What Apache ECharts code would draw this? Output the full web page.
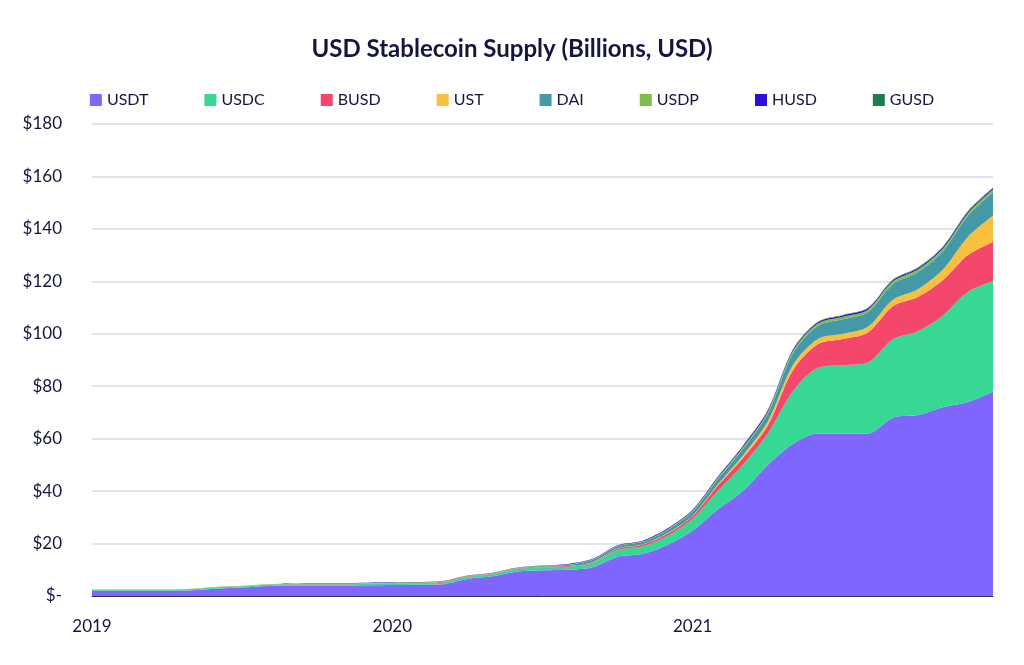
<!DOCTYPE html>
<html lang="en">
<head>
<meta charset="UTF-8">
<title>USD Stablecoin Supply</title>
<script src="https://cdn.jsdelivr.net/npm/echarts@6/dist/echarts.min.js"></script>
<style>
  *{margin:0;padding:0}
  html,body{width:100%;height:100%;background:#fff}
  #main{width:1024px;height:665px}
</style>
</head>
<body>
<div id="main"></div>
<script>
var months = [];
for (var y = 2019; y <= 2021; y++) {
    for (var m = 1; m <= 12; m++) months.push(y + '-' + (m < 10 ? '0' + m : m));
}
months.push('2022-01');

var usdt = [2,2,2,2,2.2,2.8,3.2,3.8,4,4,4,4.1,
            4.2,4.3,4.5,6.5,7.5,9.3,9.8,10,11,15,16,19.5,
            25,33,40,50,58,62,62,62,68,69,72,74,78];
var usdc = [0.3,0.3,0.3,0.3,0.4,0.4,0.4,0.4,0.5,0.5,0.5,0.5,
            0.5,0.5,0.6,0.7,0.8,1,1.1,1.2,1.5,2.5,3,3.5,
            4.5,7,10,12,20,25,26,27,30,32,35,42,42];
var busd = [0,0,0,0,0,0,0,0,0.1,0.1,0.1,0.1,
            0.1,0.1,0.2,0.2,0.2,0.2,0.2,0.2,0.3,0.5,0.6,0.8,
            1,2,2.5,3,8,9,10,11.5,12.5,13,13.5,14,15];
var ust = [0,0,0,0,0,0,0,0,0,0,0,0,
           0,0,0,0,0,0,0,0,0.1,0.1,0.1,0.2,
           0.2,0.5,1,1.5,2,2,2,2.2,2.5,3,4,7,10];
var dai = [0.1,0.1,0.1,0.1,0.1,0.1,0.1,0.1,0.1,0.1,0.1,0.1,
           0.1,0.1,0.1,0.1,0.1,0.1,0.2,0.4,0.9,0.9,1,1.2,
           1.5,2,2.5,3,4.5,5,5.5,5.5,6,6.5,7,8,9];
var usdp = [0.1,0.1,0.1,0.1,0.1,0.2,0.2,0.2,0.2,0.2,0.2,0.2,
            0.2,0.2,0.2,0.2,0.2,0.2,0.2,0.2,0.2,0.2,0.2,0.3,
            0.4,0.5,0.6,0.7,0.8,0.9,1,1,1,1,1,1,1];
var husd = [0,0,0,0,0,0,0,0,0,0.1,0.1,0.1,
            0.1,0.1,0.1,0.1,0.1,0.1,0.1,0.2,0.2,0.2,0.2,0.3,
            0.3,0.4,0.5,0.5,0.5,0.5,0.5,0.5,0.5,0.5,0.5,0.5,0.5];
var gusd = [0,0,0,0,0,0,0,0,0,0,0,0,
            0,0,0,0,0,0,0,0,0,0,0,0,
            0.1,0.1,0.1,0.2,0.2,0.2,0.2,0.2,0.2,0.3,0.3,0.3,0.3];

var names = ['USDT','USDC','BUSD','UST','DAI','USDP','HUSD','GUSD'];
var values = [usdt, usdc, busd, ust, dai, usdp, husd, gusd];
var colors = ['#7f66ff','#36d894','#f5476b','#fbbf40','#4399a6','#7ebd4c','#2a0fd6','#1f7b52'];

var chart = echarts.init(document.getElementById('main'));
var series = names.map(function (n, i) {
    return {
        name: n, type: 'line', stack: 'total', smooth: 0.3,
        symbol: 'none', lineStyle: {width: 0},
        areaStyle: {color: colors[i], opacity: 1},
        itemStyle: {color: colors[i]},
        data: values[i]
    };
});

chart.setOption({
    title: {
        text: 'USD Stablecoin Supply (Billions, USD)', left: 'center', top: 32,
        textStyle: {fontFamily: 'Lato', fontWeight: 'bold', fontSize: 24, color: '#14163f'}
    },
    legend: {
        top: 87, left: 'center', itemGap: 56, itemWidth: 12, itemHeight: 12,
        icon: 'rect',
        textStyle: {fontFamily: 'Lato', fontSize: 16, color: '#14163f'},
        data: names
    },
    grid: {left: 92, right: 31, top: 124, bottom: 69},
    xAxis: {
        type: 'category', boundaryGap: false, data: months,
        axisLine: {lineStyle: {color: '#333'}},
        axisTick: {show: false},
        axisLabel: {
            interval: function (i) { return i % 12 === 0 && i < 36; },
            formatter: function (v) { return v.slice(0, 4); },
            fontFamily: 'Lato', fontSize: 17, color: '#14163f', margin: 22
        }
    },
    yAxis: {
        type: 'value', min: 0, max: 180, interval: 20,
        axisLine: {show: false}, axisTick: {show: false},
        splitLine: {lineStyle: {color: '#d8d8e4', width: 1.5}},
        axisLabel: {
            formatter: function (v) { return v === 0 ? '$-' : '$' + v; },
            fontFamily: 'Lato', fontSize: 17, color: '#14163f', margin: 30
        }
    },
    series: series
});
</script>
</body>
</html>
